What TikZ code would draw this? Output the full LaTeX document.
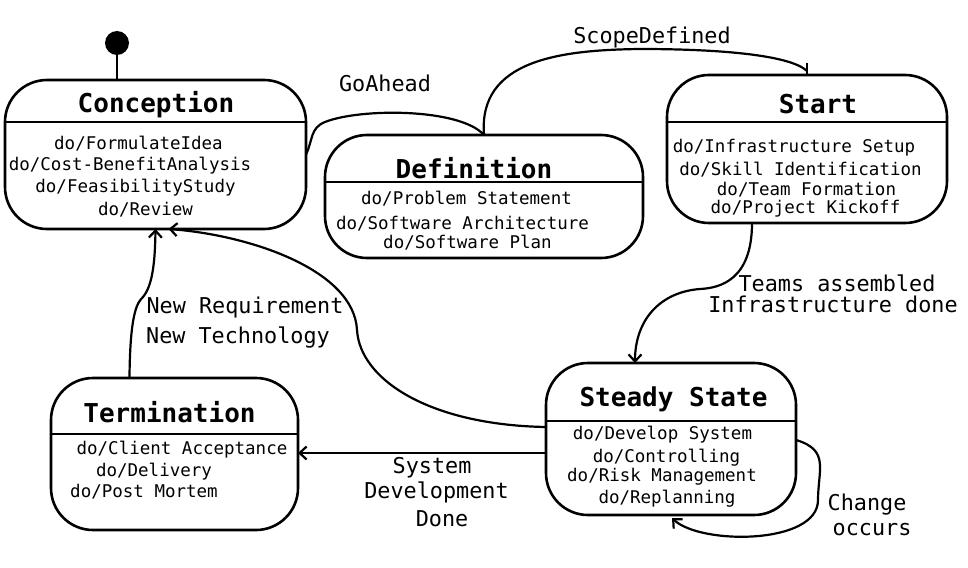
\documentclass[tikz,border=0pt]{standalone}
\usepackage{fontspec}
\setmainfont{DejaVu Sans Mono}
\usetikzlibrary{arrows.meta}
\begin{document}
\begin{tikzpicture}[x=1pt,y=-1pt,
  statebox/.style={draw, line width=2.6pt, rounded corners=42pt, inner sep=0pt, outer sep=0pt},
  ttl/.style={font=\bfseries\fontsize{26}{30}\selectfont, inner sep=0pt, yshift=-2pt},
  item/.style={font=\fontsize{17.5}{20}\selectfont, inner sep=0pt, yshift=-1.5pt},
  lbl/.style={font=\fontsize{21.8}{26}\selectfont, inner sep=0pt, yshift=-1.5pt},
  conn/.style={line width=2.2pt},
  arr/.style={conn, -{Straight Barb[length=7pt,width=13pt]}},
  divider/.style={line width=2.6pt}]
\useasboundingbox (0,0) rectangle (968,567);

% state boxes
\node[statebox, minimum width=301pt, minimum height=149pt] (conc) at (155.5,154.5) {};
\node[statebox, minimum width=318pt, minimum height=123pt] (defn) at (484,196.5) {};
\node[statebox, minimum width=280pt, minimum height=148pt] (start) at (807,149) {};
\node[statebox, minimum width=250pt, minimum height=152pt] (steady) at (671,439) {};
\node[statebox, minimum width=247pt, minimum height=152pt] (term) at (174.5,454) {};

% dividers
\draw[divider] ([yshift=-42pt]conc.north west) -- ([yshift=-42pt]conc.north east);
\draw[divider] ([yshift=-47pt]defn.north west) -- ([yshift=-47pt]defn.north east);
\draw[divider] ([yshift=-47pt]start.north west) -- ([yshift=-47pt]start.north east);
\draw[divider] ([yshift=-58pt]steady.north west) -- ([yshift=-58pt]steady.north east);
\draw[divider] ([yshift=-56pt]term.north west) -- ([yshift=-56pt]term.north east);

% Conception
\node[ttl] (concT) at (156,103) {Conception};
\node[item] (c1) at (138.5,142) {do/FormulateIdea};
\node[item] (c2) at (130,164) {do/Cost-BenefitAnalysis};
\node[item] (c3) at (135.5,186) {do/FeasibilityStudy};
\node[item] (c4) at (145.5,208) {do/Review};

% Definition
\node[ttl] (defnT) at (474,166) {Definition};
\node[item] (d1) at (466.5,197) {do/Problem Statement};
\node[item] (d2) at (462.5,222) {do/Software Architecture};
\node[item] (d3) at (467.5,241) {do/Software Plan};

% Start
\node[ttl] (startT) at (818,102) {Start};
\node[item] (s1) at (794,146) {do/Infrastructure Setup};
\node[item] (s2) at (800.5,168) {do/Skill Identification};
\node[item] (s3) at (806.5,188) {do/Team Formation};
\node[item] (s4) at (805.5,207) {do/Project Kickoff};

% Steady State
\node[ttl] (steadyT) at (673.5,397) {Steady State};
\node[item] (st1) at (662.5,433) {do/Develop System};
\node[item] (st2) at (666.5,456) {do/Controlling};
\node[item] (st3) at (662,475) {do/Risk Management};
\node[item] (st4) at (667,497) {do/Replanning};

% Termination
\node[ttl] (termT) at (169.5,410) {Termination};
\node[item] (t1) at (182,448) {do/Client Acceptance};
\node[item] (t2) at (154,470) {do/Delivery};
\node[item] (t3) at (144,490) {do/Post Mortem};

% initial state
\node[circle, fill=black, minimum size=24pt, inner sep=0pt] (init) at (117,43) {};
\draw[conn] (init) -- (init |- conc.north);

% GoAhead
\draw[conn] (conc.east) .. controls (313,140) and (310,128) .. (325,122)
  .. controls (360,108) and (460,108) .. (defn.north);
\node[lbl] (goahead) at (385,82) {GoAhead};

% ScopeDefined
\coordinate (sdtick) at ([yshift=12pt]start.north);
\draw[conn] (defn.north) .. controls (478,60) and (560,50) .. (640,49)
  .. controls (720,49) and (790,55) .. ([yshift=4pt]start.north);
\draw[conn] (sdtick) -- (start.north);
\node[lbl] (scope) at (652,36) {ScopeDefined};

% Start -> Steady
\draw[arr] ([xshift=-55pt]start.south) .. controls (752,280) and (720,288) .. (700,289)
  .. controls (660,292) and (635,320) .. ([xshift=-36pt]steady.north);
\node[lbl] (team1) at (837,282) {Teams assembled};
\node[lbl] (team2) at (833,303) {Infrastructure done};

% self loop
\draw[arr] ([yshift=-1pt]steady.east) .. controls (830,450) and (818,470) .. (818,500)
  .. controls (818,545) and (700,545) .. (672,518);
\node[lbl] (chg1) at (867,503) {Change};
\node[lbl] (chg2) at (872,528) {occurs};

% Steady -> Termination
\coordinate (stw) at ([yshift=-14pt]steady.west);
\draw[arr] (stw) -- (term.east |- stw);
\node[lbl] (sys1) at (432,466) {System};
\node[lbl] (sys2) at (436.5,491) {Development};
\node[lbl] (sys3) at (442,517) {Done};

% Steady -> Conception
\draw[arr] ([yshift=12pt]steady.west) .. controls (430,425) and (360,380) .. (357,330)
  .. controls (354,270) and (250,235) .. ([xshift=13pt]conc.south);

% Termination -> Conception
\draw[arr] ([xshift=-45pt]term.north) .. controls (130,310) and (138,302) .. (143,297)
  .. controls (153,285) and (155,260) .. (conc.south);
\node[lbl] (nr1) at (245,306) {New Requirement};
\node[lbl] (nr2) at (238,336) {New Technology};
\end{tikzpicture}
\end{document}
